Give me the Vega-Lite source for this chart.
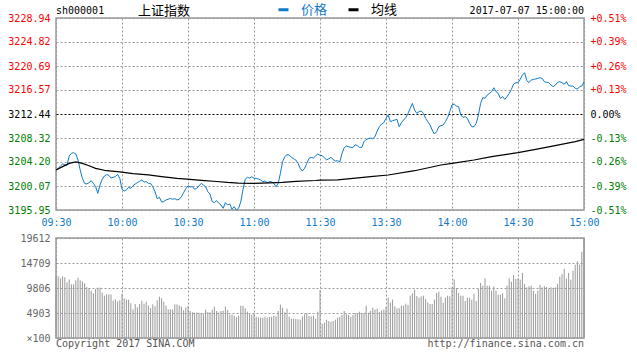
{
"$schema": "https://vega.github.io/schema/vega-lite/v6.json",
"background": "white",
"padding": {"left": 7, "top": 3, "right": 5, "bottom": 2},
"spacing": 4,
"config": {"font": "DejaVu Sans Mono", "view": {"stroke": "#999999", "strokeWidth": 1.5}, "axis": {"labelOverlap": false, "gridOpacity": 1, "gridWidth": 1}},
"datasets": {
"m": [
{"t":0,"p":3202.83,"v":12100},{"t":1,"p":3203.11,"v":12090},{"t":2,"p":3203.51,"v":11700},{"t":3,"p":3203.86,"v":12090},{"t":4,"p":3203.74,"v":11900},{"t":5,"p":3203.63,"v":10920},{"t":6,"p":3205.23,"v":11500},{"t":7,"p":3205.69,"v":10530},{"t":8,"p":3205.80,"v":10530},{"t":9,"p":3205.57,"v":11310},
{"t":10,"p":3204.54,"v":11830},{"t":11,"p":3202.83,"v":11310},{"t":12,"p":3201.39,"v":11110},{"t":13,"p":3200.53,"v":10720},{"t":14,"p":3200.42,"v":10000},{"t":15,"p":3200.65,"v":9740},{"t":16,"p":3200.99,"v":9280},{"t":17,"p":3200.53,"v":8760},{"t":18,"p":3199.96,"v":9610},{"t":19,"p":3198.82,"v":9870},
{"t":20,"p":3200.25,"v":9870},{"t":21,"p":3201.22,"v":8890},{"t":22,"p":3201.79,"v":8300},{"t":23,"p":3202.02,"v":8560},{"t":24,"p":3201.91,"v":8560},{"t":25,"p":3201.45,"v":8560},{"t":26,"p":3201.57,"v":7320},{"t":27,"p":3201.68,"v":7580},{"t":28,"p":3202.08,"v":7190},{"t":29,"p":3201.39,"v":7390},
{"t":30,"p":3199.50,"v":8690},{"t":31,"p":3199.22,"v":7780},{"t":32,"p":3199.39,"v":7520},{"t":33,"p":3199.85,"v":7520},{"t":34,"p":3199.68,"v":6800},{"t":35,"p":3200.13,"v":5620},{"t":36,"p":3200.42,"v":6670},{"t":37,"p":3200.65,"v":6010},{"t":38,"p":3200.88,"v":6670},{"t":39,"p":3201.11,"v":7320},
{"t":40,"p":3200.76,"v":6730},{"t":41,"p":3200.82,"v":7130},{"t":42,"p":3200.53,"v":6340},{"t":43,"p":3200.53,"v":5880},{"t":44,"p":3199.96,"v":6600},{"t":45,"p":3199.10,"v":6210},{"t":46,"p":3197.90,"v":7390},{"t":47,"p":3198.13,"v":8110},{"t":48,"p":3197.33,"v":7780},{"t":49,"p":3197.38,"v":7130},
{"t":50,"p":3197.67,"v":6340},{"t":51,"p":3197.79,"v":5620},{"t":52,"p":3197.96,"v":5620},{"t":53,"p":3197.79,"v":5620},{"t":54,"p":3197.90,"v":6600},{"t":55,"p":3197.67,"v":6600},{"t":56,"p":3197.79,"v":6410},{"t":57,"p":3198.24,"v":6150},{"t":58,"p":3198.93,"v":5430},{"t":59,"p":3199.60,"v":6010},
{"t":60,"p":3200.10,"v":6340},{"t":61,"p":3199.90,"v":5300},{"t":62,"p":3199.96,"v":5030},{"t":63,"p":3199.50,"v":4970},{"t":64,"p":3199.68,"v":4970},{"t":65,"p":3200.08,"v":4970},{"t":66,"p":3200.53,"v":4840},{"t":67,"p":3200.25,"v":4770},{"t":68,"p":3199.96,"v":5560},{"t":69,"p":3199.10,"v":5100},
{"t":70,"p":3198.70,"v":5030},{"t":71,"p":3197.38,"v":5560},{"t":72,"p":3197.21,"v":6150},{"t":73,"p":3197.56,"v":5300},{"t":74,"p":3197.10,"v":5030},{"t":75,"p":3196.81,"v":5300},{"t":76,"p":3196.24,"v":5360},{"t":77,"p":3197.21,"v":6150},{"t":78,"p":3196.81,"v":5490},{"t":79,"p":3196.98,"v":4580},
{"t":80,"p":3196.07,"v":4580},{"t":81,"p":3196.53,"v":4380},{"t":82,"p":3195.95,"v":4050},{"t":83,"p":3196.24,"v":4380},{"t":84,"p":3197.38,"v":6340},{"t":85,"p":3199.50,"v":6340},{"t":86,"p":3201.22,"v":5820},{"t":87,"p":3201.57,"v":5160},{"t":88,"p":3201.45,"v":4770},{"t":89,"p":3201.68,"v":4580},
{"t":90,"p":3201.39,"v":4710},{"t":91,"p":3201.39,"v":4180},{"t":92,"p":3201.28,"v":4050},{"t":93,"p":3201.11,"v":3990},{"t":94,"p":3200.82,"v":3990},{"t":95,"p":3200.94,"v":4180},{"t":96,"p":3200.65,"v":3990},{"t":97,"p":3200.82,"v":4120},{"t":98,"p":3200.82,"v":4180},{"t":99,"p":3200.53,"v":4380},
{"t":100,"p":3199.96,"v":4250},{"t":101,"p":3200.53,"v":5300},{"t":102,"p":3202.25,"v":6540},{"t":103,"p":3204.26,"v":5950},{"t":104,"p":3205.12,"v":5030},{"t":105,"p":3205.46,"v":5750},{"t":106,"p":3205.40,"v":4180},{"t":107,"p":3205.00,"v":3790},{"t":108,"p":3204.77,"v":3790},{"t":109,"p":3204.54,"v":3790},
{"t":110,"p":3203.97,"v":3660},{"t":111,"p":3203.11,"v":3600},{"t":112,"p":3202.65,"v":4180},{"t":113,"p":3203.11,"v":4640},{"t":114,"p":3203.97,"v":4900},{"t":115,"p":3204.83,"v":4310},{"t":116,"p":3205.00,"v":4250},{"t":117,"p":3204.89,"v":4380},{"t":118,"p":3205.23,"v":3790},{"t":119,"p":3205.57,"v":5160},
{"t":120,"p":3205.35,"v":9410},{"t":121,"p":3205.28,"v":2810},{"t":122,"p":3204.94,"v":3010},{"t":123,"p":3204.54,"v":3600},{"t":124,"p":3204.77,"v":3330},{"t":125,"p":3204.99,"v":3200},{"t":126,"p":3204.65,"v":3330},{"t":127,"p":3204.36,"v":3600},{"t":128,"p":3204.42,"v":3990},{"t":129,"p":3204.19,"v":4180},
{"t":130,"p":3205.68,"v":4510},{"t":131,"p":3206.66,"v":5300},{"t":132,"p":3206.94,"v":4640},{"t":133,"p":3206.83,"v":4510},{"t":134,"p":3206.71,"v":4120},{"t":135,"p":3206.71,"v":4510},{"t":136,"p":3207.17,"v":4900},{"t":137,"p":3207.00,"v":4900},{"t":138,"p":3206.71,"v":5160},{"t":139,"p":3206.71,"v":4900},
{"t":140,"p":3207.69,"v":4970},{"t":141,"p":3208.09,"v":6340},{"t":142,"p":3208.20,"v":4970},{"t":143,"p":3208.32,"v":5300},{"t":144,"p":3208.20,"v":5950},{"t":145,"p":3208.55,"v":5560},{"t":146,"p":3209.52,"v":5750},{"t":147,"p":3210.26,"v":5100},{"t":148,"p":3210.72,"v":5430},{"t":149,"p":3210.95,"v":5560},
{"t":150,"p":3211.70,"v":6150},{"t":151,"p":3212.27,"v":7910},{"t":152,"p":3211.12,"v":6930},{"t":153,"p":3211.29,"v":7520},{"t":154,"p":3211.41,"v":6210},{"t":155,"p":3211.52,"v":5820},{"t":156,"p":3210.26,"v":5820},{"t":157,"p":3210.95,"v":6340},{"t":158,"p":3211.41,"v":6340},{"t":159,"p":3211.81,"v":6730},
{"t":160,"p":3212.55,"v":6470},{"t":161,"p":3213.41,"v":8300},{"t":162,"p":3214.27,"v":8760},{"t":163,"p":3213.13,"v":9480},{"t":164,"p":3212.55,"v":8240},{"t":165,"p":3212.84,"v":7910},{"t":166,"p":3212.96,"v":8170},{"t":167,"p":3212.55,"v":8300},{"t":168,"p":3211.70,"v":7650},{"t":169,"p":3211.12,"v":7000},
{"t":170,"p":3210.55,"v":6670},{"t":171,"p":3209.69,"v":6670},{"t":172,"p":3209.00,"v":7520},{"t":173,"p":3209.40,"v":8830},{"t":174,"p":3210.26,"v":9090},{"t":175,"p":3210.44,"v":8110},{"t":176,"p":3210.55,"v":6930},{"t":177,"p":3211.12,"v":7910},{"t":178,"p":3211.81,"v":8300},{"t":179,"p":3212.90,"v":8170},
{"t":180,"p":3213.99,"v":9940},{"t":181,"p":3214.16,"v":11500},{"t":182,"p":3213.81,"v":9810},{"t":183,"p":3213.70,"v":8830},{"t":184,"p":3212.27,"v":8300},{"t":185,"p":3211.87,"v":8300},{"t":186,"p":3211.98,"v":7260},{"t":187,"p":3211.70,"v":7910},{"t":188,"p":3210.84,"v":7910},{"t":189,"p":3210.26,"v":7520},
{"t":190,"p":3210.26,"v":8690},{"t":191,"p":3210.84,"v":7260},{"t":192,"p":3212.27,"v":9610},{"t":193,"p":3214.27,"v":10790},{"t":194,"p":3215.25,"v":10260},{"t":195,"p":3215.13,"v":11700},{"t":196,"p":3215.70,"v":10260},{"t":197,"p":3215.99,"v":10260},{"t":198,"p":3216.28,"v":9280},{"t":199,"p":3216.96,"v":10130},
{"t":200,"p":3216.28,"v":9280},{"t":201,"p":3215.99,"v":8500},{"t":202,"p":3215.13,"v":8500},{"t":203,"p":3215.42,"v":8760},{"t":204,"p":3214.96,"v":7780},{"t":205,"p":3215.42,"v":10260},{"t":206,"p":3215.99,"v":11700},{"t":207,"p":3216.68,"v":11050},{"t":208,"p":3217.59,"v":12360},{"t":209,"p":3217.82,"v":11570},
{"t":210,"p":3217.82,"v":11700},{"t":211,"p":3218.40,"v":11440},{"t":212,"p":3219.14,"v":12750},{"t":213,"p":3219.54,"v":10590},{"t":214,"p":3218.17,"v":9940},{"t":215,"p":3217.82,"v":10130},{"t":216,"p":3218.28,"v":10260},{"t":217,"p":3218.40,"v":9280},{"t":218,"p":3218.45,"v":8630},{"t":219,"p":3218.57,"v":9280},
{"t":220,"p":3218.68,"v":10390},{"t":221,"p":3218.57,"v":9940},{"t":222,"p":3218.00,"v":10130},{"t":223,"p":3217.88,"v":10000},{"t":224,"p":3217.82,"v":9610},{"t":225,"p":3217.42,"v":9940},{"t":226,"p":3217.14,"v":9810},{"t":227,"p":3217.42,"v":9940},{"t":228,"p":3217.88,"v":10590},{"t":229,"p":3218.00,"v":12030},
{"t":230,"p":3217.82,"v":12550},{"t":231,"p":3217.54,"v":13600},{"t":232,"p":3218.00,"v":11640},{"t":233,"p":3217.31,"v":12750},{"t":234,"p":3217.25,"v":11440},{"t":235,"p":3217.25,"v":13210},{"t":236,"p":3216.85,"v":14380},{"t":237,"p":3216.74,"v":15040},{"t":238,"p":3217.14,"v":14380},{"t":239,"p":3217.25,"v":16930},
{"t":240,"p":3217.94,"v":19612}
],
"avg": [
{"t":0,"a":3202.83},{"t":3,"a":3203.40},{"t":6,"a":3203.95},{"t":9,"a":3204.20},{"t":12,"a":3203.95},{"t":15,"a":3203.55},{"t":18,"a":3203.11},{"t":23,"a":3202.70},{"t":29,"a":3202.50},{"t":35,"a":3202.20},{"t":42,"a":3201.97},{"t":48,"a":3201.68},{"t":55,"a":3201.40},{"t":61,"a":3201.22},{"t":66,"a":3201.05},{"t":73,"a":3200.85},{"t":78,"a":3200.68},{"t":83,"a":3200.58},{"t":90,"a":3200.53},{"t":97,"a":3200.62},{"t":103,"a":3200.70},{"t":109,"a":3200.88},{"t":118,"a":3201.02},{"t":120,"a":3201.08},{"t":128,"a":3201.12},{"t":135,"a":3201.39},{"t":143,"a":3201.67},{"t":151,"a":3201.96},{"t":163,"a":3202.70},{"t":175,"a":3203.68},{"t":180,"a":3203.96},{"t":190,"a":3204.54},{"t":198,"a":3205.11},{"t":210,"a":3205.80},{"t":218,"a":3206.37},{"t":228,"a":3207.11},{"t":236,"a":3207.69},{"t":240,"a":3208.09}
]
},
"vconcat": [
{
"width": 528, "height": 192,
"data": {"name": "m"},
"layer": [
{"mark": {"type": "line", "strokeWidth": 1},
 "encoding": {
  "x": {"field": "t", "type": "quantitative", "scale": {"domain": [0, 240], "nice": false, "zero": false},
   "axis": {"values": [0,30,60,90,120,150,180,210,240], "labelExpr": "['09:30','10:00','10:30','11:00','11:30','13:30','14:00','14:30','15:00'][round(datum.value/30)]", "labelColor": "#0f7ac8", "labelFont": "DejaVu Sans Mono", "labelFontSize": 10, "labelPadding": 7, "labelFlush": false, "labelOverlap": false, "ticks": false, "domain": false, "grid": true, "gridColor": "#9a9a9a", "gridDash": [2,2], "title": null}},
  "y": {"field": "p", "type": "quantitative", "scale": {"domain": [3195.95, 3228.94], "nice": false, "zero": false},
   "axis": {"orient": "left", "values": [3195.95,3200.07,3204.20,3208.32,3212.44,3216.57,3220.69,3224.82,3228.94], "labelExpr": "format(datum.value, '.2f')", "labelColor": {"condition": [{"test": "datum.value > 3212.45", "value": "#ff0000"}, {"test": "datum.value < 3212.43", "value": "#008000"}], "value": "#000000"}, "labelFont": "DejaVu Sans Mono", "labelFontSize": 10, "labelPadding": 6, "labelFlush": false, "labelOverlap": false, "ticks": false, "domain": false, "grid": true, "gridColor": {"condition": {"test": "abs(datum.value - 3212.44) < 0.01", "value": "#000000"}, "value": "#9a9a9a"}, "gridDash": [2,2], "title": null}},
  "color": {"datum": "价格", "scale": {"domain": ["价格", "均线"], "range": ["#0f7ac8", "#000000"]},
   "legend": {"orient": "none", "legendX": 221, "legendY": -15, "direction": "horizontal", "title": null, "padding": 0, "symbolType": "stroke", "symbolStrokeWidth": 3, "symbolSize": 100, "labelFont": "Noto Sans CJK SC", "labelFontSize": 13, "labelOffset": 11, "columnPadding": 14,
    "encode": {"labels": {"update": {"fill": {"signal": "datum.value == '价格' ? '#0f7ac8' : '#000000'"}}}}}}
 }},
{"data": {"name": "avg"}, "mark": {"type": "line", "strokeWidth": 1.2},
 "encoding": {
  "x": {"field": "t", "type": "quantitative"},
  "y": {"field": "a", "type": "quantitative",
   "axis": {"orient": "right", "values": [3195.95,3200.07,3204.20,3208.32,3212.44,3216.57,3220.69,3224.82,3228.94], "labelExpr": "(datum.value > 3212.45 ? '+' : (datum.value < 3212.43 ? '-' : '')) + format(abs((datum.value - 3212.44) / 3212.44 * 100), '.2f') + '%'", "labelColor": {"condition": [{"test": "datum.value > 3212.45", "value": "#ff0000"}, {"test": "datum.value < 3212.43", "value": "#008000"}], "value": "#000000"}, "labelFont": "DejaVu Sans Mono", "labelFontSize": 10, "labelPadding": 6, "labelFlush": false, "labelOverlap": false, "ticks": false, "domain": false, "grid": false, "title": null}},
  "color": {"datum": "均线"}
 }},
{"data": {"values": [{}]}, "mark": {"type": "text", "align": "left", "baseline": "middle", "font": "DejaVu Sans Mono", "fontSize": 10, "color": "#000000"},
 "encoding": {"x": {"datum": 0, "type": "quantitative"}, "y": {"datum": 3230.10, "type": "quantitative", "axis": null}, "text": {"value": "sh000001"}}},
{"data": {"values": [{}]}, "mark": {"type": "text", "align": "left", "baseline": "middle", "font": "Noto Sans CJK SC", "fontSize": 13, "color": "#000000"},
 "encoding": {"x": {"datum": 37.3, "type": "quantitative"}, "y": {"datum": 3230.20, "type": "quantitative", "axis": null}, "text": {"value": "上证指数"}}},
{"data": {"values": [{}]}, "mark": {"type": "text", "align": "right", "baseline": "middle", "font": "DejaVu Sans Mono", "fontSize": 10, "color": "#000000"},
 "encoding": {"x": {"datum": 240, "type": "quantitative"}, "y": {"datum": 3230.20, "type": "quantitative", "axis": null}, "text": {"value": "2017-07-07 15:00:00"}}}
],
"resolve": {"axis": {"y": "independent"}}
},
{
"width": 528, "height": 100,
"data": {"name": "m"},
"layer": [
{"mark": {"type": "rule", "color": "#999999", "strokeWidth": 1},
 "encoding": {
  "x": {"field": "t", "type": "quantitative", "scale": {"domain": [0, 240], "nice": false, "zero": false},
   "axis": {"values": [0,30,60,90,120,150,180,210,240], "labels": false, "ticks": false, "domain": false, "grid": true, "gridColor": "#9a9a9a", "gridDash": [2,2], "title": null, "zindex": 1}},
  "y": {"field": "v", "type": "quantitative", "scale": {"domain": [0, 19612], "nice": false, "zero": true},
   "axis": {"values": [0,4903,9806,14709,19612], "labelExpr": "datum.value == 0 ? '×100' : '' + datum.value", "labelColor": "#666666", "labelFont": "DejaVu Sans Mono", "labelFontSize": 10, "labelPadding": 6, "labelFlush": false, "labelOverlap": false, "ticks": false, "domain": false, "grid": true, "gridColor": "#9a9a9a", "gridDash": [2,2], "title": null, "zindex": 1}},
  "y2": {"datum": 0}
 }},
{"data": {"values": [{}]}, "mark": {"type": "text", "align": "left", "baseline": "middle", "font": "DejaVu Sans Mono", "fontSize": 10, "color": "#555555"},
 "encoding": {"x": {"datum": 0, "type": "quantitative", "axis": null}, "y": {"datum": -1080, "type": "quantitative", "axis": null}, "text": {"value": "Copyright 2017 SINA.COM"}}},
{"data": {"values": [{}]}, "mark": {"type": "text", "align": "right", "baseline": "middle", "font": "DejaVu Sans Mono", "fontSize": 10, "color": "#555555"},
 "encoding": {"x": {"datum": 240, "type": "quantitative", "axis": null}, "y": {"datum": -1080, "type": "quantitative", "axis": null}, "text": {"value": "http://finance.sina.com.cn"}}}
],
"resolve": {"axis": {"x": "independent", "y": "independent"}}
}
]
}
